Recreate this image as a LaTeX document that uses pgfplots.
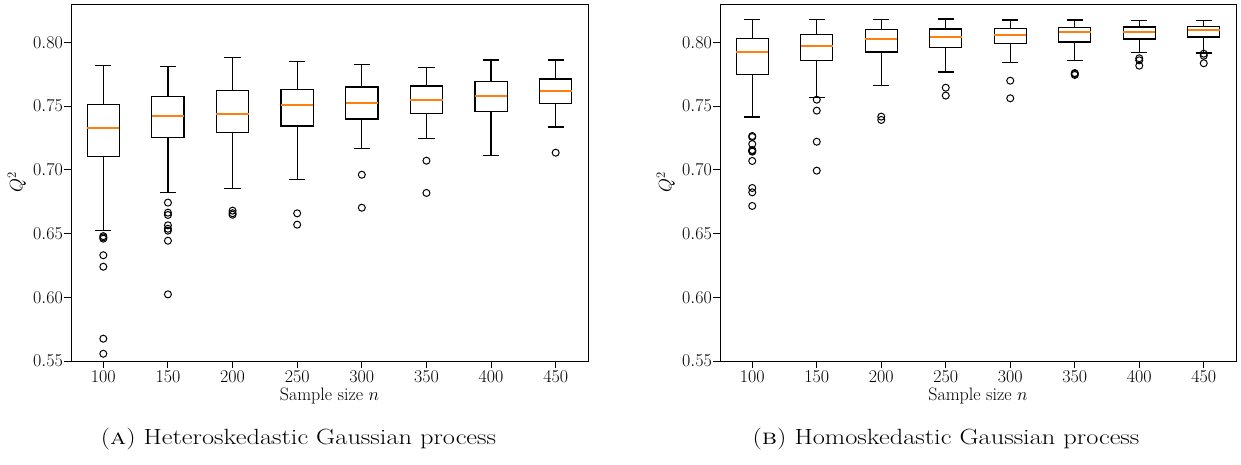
\RequirePackage{fix-cm}
\documentclass[border=0pt]{standalone}
\usepackage{fontspec}
\usepackage{pgfplots}
\pgfplotsset{compat=1.18}
\usepgfplotslibrary{statistics}
\definecolor{mplorange}{HTML}{FF7F0E}
\newcommand{\axfont}{\fontsize{18}{21}\selectfont}
\pgfplotsset{
  myaxis/.style={
    scale only axis, width=517pt, height=357pt, anchor=south west,
    xmin=0.5, xmax=8.5, ymin=0.55, ymax=0.8302,
    xtick={1,2,3,4,5,6,7,8},
    xticklabels={100,150,200,250,300,350,400,450},
    ytick={0.55,0.60,0.65,0.70,0.75,0.80},
    yticklabel style={/pgf/number format/fixed, /pgf/number format/fixed zerofill, /pgf/number format/precision=2},
    tick align=outside, tick pos=left, major tick length=7pt,
    axis line style={black, line width=0.9pt},
    tick style={black, line width=0.9pt},
    tick label style={font=\axfont},
    x tick label style={inner sep=2.5pt},
    y tick label style={inner sep=1pt},
    xlabel={Sample size $n$}, ylabel={$Q^2$},
    every axis x label/.style={at={(axis description cs:0.5,-0.099)}, anchor=center, font=\axfont},
    every axis y label/.style={at={(axis description cs:-0.105,0.5)}, anchor=center, rotate=90, font=\axfont},
    clip=false,
    boxplot/draw direction=y,
    boxplot/box extend=0.5,
    boxplot/whisker extend=0.25,
    boxplot/every median/.style={draw=mplorange, line width=1.9pt},
  },
  bx/.style={black, line width=1.2pt, mark=o, mark size=3.5pt,
    mark options={black, line width=1pt, fill=none}},
}
% #1 position, #2 lower whisker, #3 lower quartile, #4 median, #5 upper quartile, #6 upper whisker, #7 outliers
\newcommand{\bx}[7]{\addplot[bx, boxplot prepared={draw position=#1, lower whisker=#2, lower quartile=#3, median=#4, upper quartile=#5, upper whisker=#6}] coordinates {#7};}
\begin{document}
\begin{tikzpicture}[x=1pt,y=1pt]
\path[use as bounding box] (0,0) rectangle (1241,464);
\begin{axis}[myaxis, at={(71pt,103pt)}]
\bx{1}{0.6526}{0.7107}{0.7326}{0.7512}{0.7820}{(0,0.6480)(0,0.6470)(0,0.6460)(0,0.6330)(0,0.6240)(0,0.5675)(0,0.5557)}
\bx{2}{0.6821}{0.7256}{0.7426}{0.7575}{0.7810}{(0,0.6743)(0,0.6664)(0,0.6646)(0,0.6565)(0,0.6538)(0,0.6523)(0,0.6444)(0,0.6023)}
\bx{3}{0.6853}{0.7295}{0.7441}{0.7622}{0.7884}{(0,0.6680)(0,0.6660)(0,0.6648)}
\bx{4}{0.6923}{0.7345}{0.7509}{0.7633}{0.7849}{(0,0.6659)(0,0.6570)}
\bx{5}{0.7167}{0.7400}{0.7528}{0.7651}{0.7826}{(0,0.6962)(0,0.6703)}
\bx{6}{0.7245}{0.7444}{0.7549}{0.7659}{0.7802}{(0,0.7072)(0,0.6819)}
\bx{7}{0.7112}{0.7457}{0.7580}{0.7695}{0.7863}{}
\bx{8}{0.7337}{0.7520}{0.7617}{0.7713}{0.7863}{(0,0.7135)}
\end{axis}
\begin{axis}[myaxis, at={(720pt,103pt)}, width=516pt]
\bx{1}{0.7415}{0.7750}{0.7928}{0.8030}{0.8182}{(0,0.7266)(0,0.7258)(0,0.7203)(0,0.7156)(0,0.7150)(0,0.7143)(0,0.7070)(0,0.6858)(0,0.6824)(0,0.6717)}
\bx{2}{0.7567}{0.7860}{0.7975}{0.8064}{0.8182}{(0,0.7551)(0,0.7465)(0,0.7221)(0,0.6994)}
\bx{3}{0.7661}{0.7925}{0.8027}{0.8100}{0.8182}{(0,0.7418)(0,0.7392)}
\bx{4}{0.7768}{0.7962}{0.8046}{0.8106}{0.8184}{(0,0.7645)(0,0.7583)}
\bx{5}{0.7842}{0.7990}{0.8061}{0.8108}{0.8177}{(0,0.7700)(0,0.7562)}
\bx{6}{0.7860}{0.8004}{0.8080}{0.8118}{0.8177}{(0,0.7760)(0,0.7753)(0,0.7745)}
\bx{7}{0.7923}{0.8027}{0.8082}{0.8122}{0.8174}{(0,0.7876)(0,0.7860)(0,0.7818)}
\bx{8}{0.7918}{0.8043}{0.8096}{0.8124}{0.8174}{(0,0.7912)(0,0.7896)(0,0.7837)}
\end{axis}
\node[anchor=base, inner sep=0pt] at (298.5,19.7) {\scalebox{1.2}[1]{\fontsize{22}{26}\selectfont (\textsc{a}) Heteroskedastic Gaussian process}};
\node[anchor=base, inner sep=0pt] at (946,19.7) {\scalebox{1.2}[1]{\fontsize{22}{26}\selectfont (\textsc{b}) Homoskedastic Gaussian process}};
\end{tikzpicture}
\end{document}
